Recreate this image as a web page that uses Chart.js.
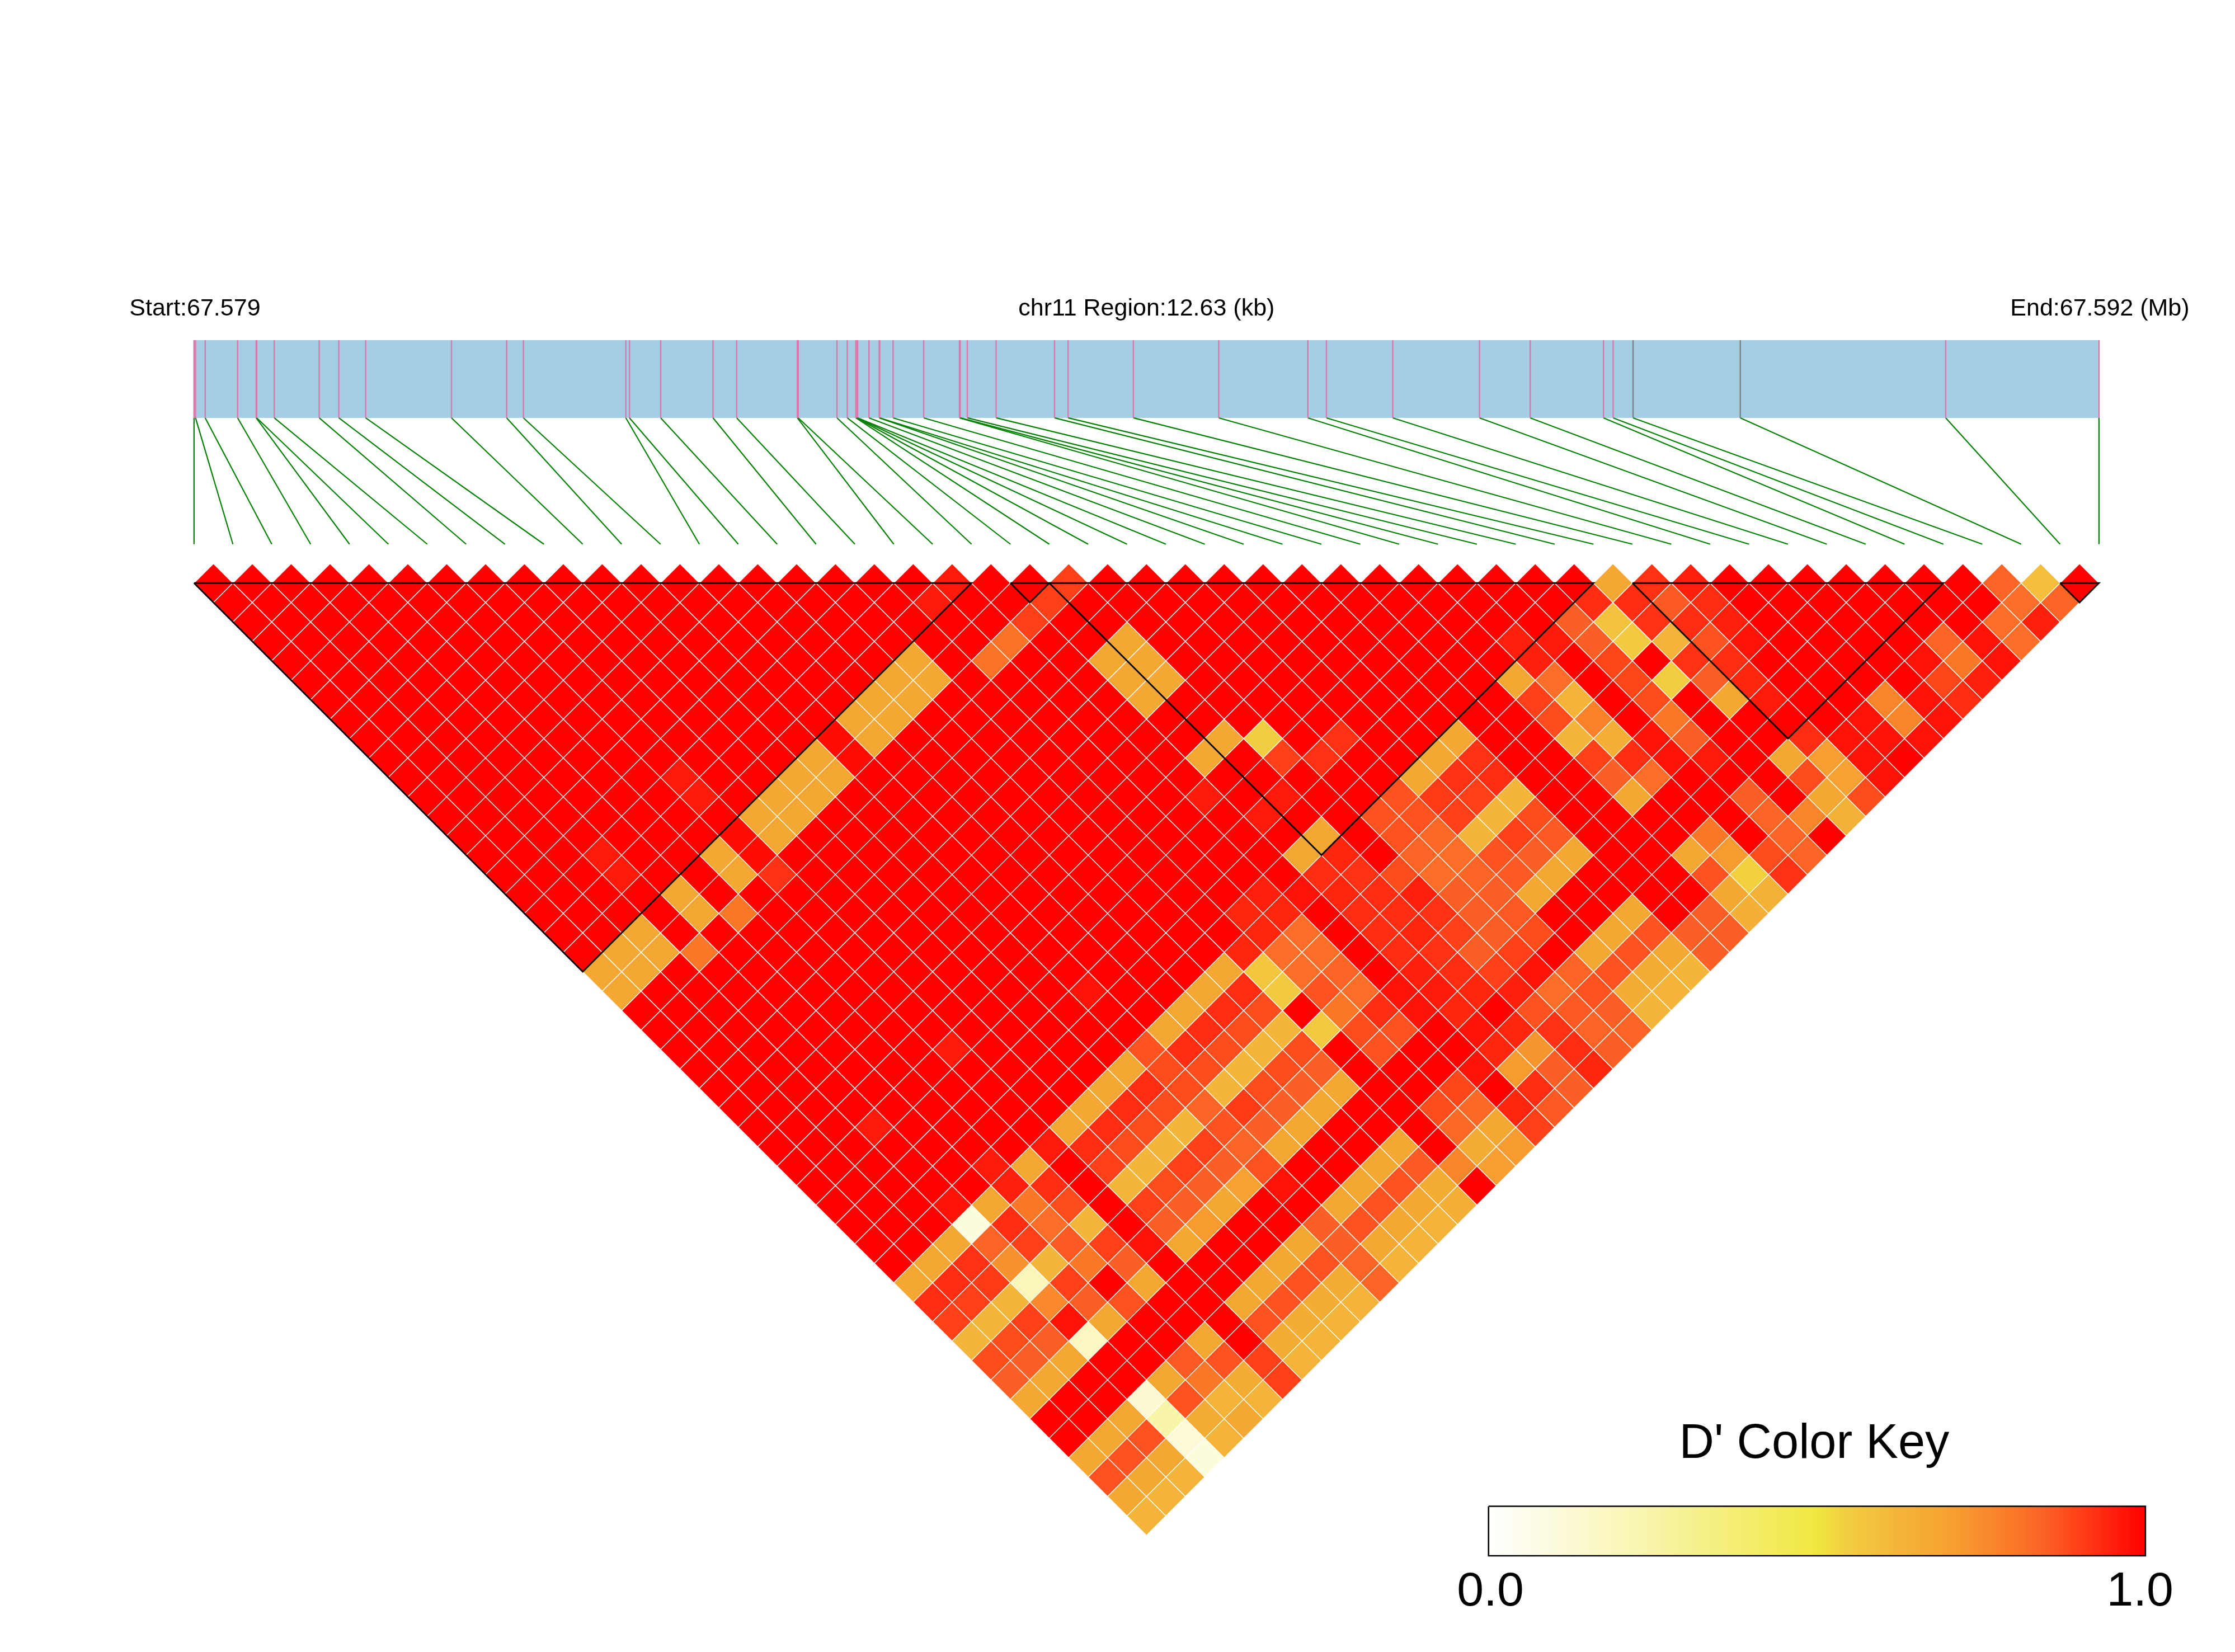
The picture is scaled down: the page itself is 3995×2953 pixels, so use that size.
<!DOCTYPE html>
<html>
<head>
<meta charset="utf-8">
<title>LD heatmap</title>
<script src="https://cdn.jsdelivr.net/npm/chart.js@4/dist/chart.umd.min.js"></script>
<style>
  html, body { margin: 0; padding: 0; background: #fff; }
  canvas { display: block; }
</style>
</head>
<body>
<canvas id="ldChart" width="3995" height="2953"></canvas>
<script>
const regionKb = 12.63;
const snpCount = 50;

// SNP positions along the region, kb from the start
const snpKb = [
  0, 0.01, 0.074, 0.289, 0.412, 0.416, 0.532, 0.83, 0.96, 1.138,
  1.707, 2.073, 2.184, 2.863, 2.887, 3.094, 3.441, 3.598, 4.0, 4.006,
  4.263, 4.331, 4.388, 4.392, 4.396, 4.4, 4.475, 4.543, 4.546, 4.635,
  4.838, 5.075, 5.08, 5.127, 5.318, 5.705, 5.795, 6.228, 6.794, 7.385,
  7.508, 7.948, 8.523, 8.859, 9.345, 9.409, 9.541, 10.252, 11.614, 12.63
];
const greyTicks = [46, 47];

// LD blocks, first and last SNP
const blockStart = [0, 21, 22, 37, 48];
const blockEnd = [20, 22, 36, 45, 49];

const fullLD = 1;
// pairs with D' under 1: [snp i, snp j, D']
const lowPairs = [
  [19,20,.96],[22,23,.9],[36,37,.68],[37,38,.92],[38,39,.95],[46,47,.84],[47,48,.6],
  [18,20,.96],[21,23,.9],[35,37,.93],[36,38,.93],[37,39,.86],[38,40,.93],[46,48,.82],[47,49,.84],
  [20,23,.9],[34,37,.85],[35,38,.58],[36,39,.92],[37,40,.93],[38,41,.95],[45,48,.82],[46,49,.95],
  [19,23,.81],[22,26,.68],[32,36,.95],[33,37,.96],[34,38,.85],[35,39,.56],[36,40,.63],[37,41,.87],[38,42,.97],[43,47,.84],[44,48,.97],[45,49,.82],
  [16,21,.68],[18,23,.81],[21,26,.68],[22,27,.68],[32,37,.95],[34,39,.89],[36,41,.92],[37,42,.93],[42,47,.97],[43,48,.8],[44,49,.97],
  [15,21,.68],[16,22,.68],[21,27,.68],[22,28,.68],[31,37,.68],[32,38,.82],[34,40,.89],[35,41,.55],[36,42,.85],[37,43,.94],[42,48,.89],[43,49,.95],
  [14,21,.68],[15,22,.68],[21,28,.68],[31,38,.9],[32,39,.63],[34,41,.88],[36,43,.68],[37,44,.96],[40,47,.77],[41,48,.97],[42,49,.93],
  [13,21,.68],[14,22,.68],[31,39,.88],[32,40,.78],[34,42,.8],[39,47,.97],[40,48,.77],[41,49,.97],
  [13,22,.68],[12,21,.98],[22,31,.68],[23,32,.55],[25,34,.92],[28,37,.68],[31,40,.62],[32,41,.65],[33,42,.97],[34,43,.85],[37,46,.93],[38,47,.97],[39,48,.97],[40,49,.97],
  [12,22,.98],[11,21,.68],[21,31,.68],[23,33,.9],[24,34,.92],[27,37,.68],[28,38,.92],[31,41,.9],[32,42,.93],[33,43,.97],[34,44,.96],[36,46,.68],[37,47,.71],[38,48,.97],
  [7,18,.96],[10,21,.68],[11,22,.68],[26,37,.68],[27,38,.92],[28,39,.93],[31,42,.85],[32,43,.82],[36,47,.88],[37,48,.7],[38,49,.97],
  [7,19,.96],[9,21,.68],[10,22,.68],[20,32,.96],[22,34,.96],[25,37,.87],[26,38,.91],[27,39,.9],[28,40,.62],[31,43,.68],[34,46,.85],[36,48,.68],[37,49,.88],
  [8,21,.68],[9,22,.68],[21,34,.96],[24,37,.87],[25,38,.87],[26,39,.9],[27,40,.62],[28,41,.88],[34,47,.84],[35,48,.77],[36,49,.64],
  [8,22,.68],[7,21,.98],[22,36,.68],[24,38,.87],[25,39,.83],[26,40,.62],[27,41,.9],[28,42,.86],[32,46,.8],[34,48,.84],
  [6,21,.68],[7,22,.98],[3,18,.96],[21,36,.68],[22,37,.94],[24,39,.84],[25,40,.82],[26,41,.87],[27,42,.85],[28,43,.68],[31,46,.68],[32,47,.72],[33,48,.88],[34,49,.84],
  [3,19,.96],[6,22,.68],[7,23,.92],[21,37,.93],[22,38,.92],[23,39,.88],[24,40,.82],[25,41,.84],[26,42,.86],[27,43,.68],[31,47,.87],[32,48,.54],[33,49,.92],
  [4,21,.68],[19,36,.95],[20,37,.97],[21,38,.94],[22,39,.93],[23,40,.95],[24,41,.85],[25,42,.85],[26,43,.68],[31,48,.68],[32,49,.64],
  [4,22,.68],[5,23,.8],[18,36,.94],[19,37,.94],[21,39,.93],[22,40,.93],[23,41,.92],[24,42,.85],[25,43,.86],[28,46,.68],[30,48,.85],[31,49,.65],
  [2,21,.68],[18,37,.94],[19,38,.82],[21,40,.93],[22,41,.94],[23,42,.9],[24,43,.85],[25,44,.88],[27,46,.68],[28,47,.87],[29,48,.85],[30,49,.85],
  [1,21,.68],[2,22,.68],[3,23,.8],[17,37,.94],[18,38,.82],[19,39,.82],[21,41,.93],[22,42,.92],[23,43,.85],[24,44,.9],[26,46,.68],[27,47,.87],[28,48,.68],[29,49,.85],
  [0,21,.68],[1,22,.68],[16,37,.68],[17,38,.57],[18,39,.82],[19,40,.84],[21,42,.95],[22,43,.93],[23,44,.9],[24,45,.97],[25,46,.84],[26,47,.87],[27,48,.66],[28,49,.62],
  [0,22,.68],[12,34,.97],[15,37,.68],[16,38,.93],[17,39,.56],[18,40,.87],[19,41,.82],[20,42,.97],[21,43,.96],[22,44,.94],[23,45,.95],[24,46,.82],[25,47,.87],[26,48,.66],[27,49,.63],
  [14,37,.68],[15,38,.93],[16,39,.88],[18,41,.8],[19,42,.93],[20,43,.97],[21,44,.94],[23,46,.87],[24,47,.86],[25,48,.85],[26,49,.62],
  [13,37,.68],[14,38,.93],[15,39,.88],[16,40,.62],[17,41,.56],[18,42,.88],[19,43,.87],[21,45,.97],[22,46,.94],[23,47,.92],[24,48,.84],[25,49,.84],
  [7,32,.96],[12,37,.87],[13,38,.93],[14,39,.88],[15,40,.62],[16,41,.88],[18,43,.87],[21,46,.94],[22,47,.73],[23,48,.93],[24,49,.85],
  [11,37,.68],[12,38,.88],[13,39,.88],[14,40,.62],[15,41,.88],[16,42,.85],[20,46,.97],[21,47,.72],[22,48,.85],[23,49,.94],
  [10,37,.68],[11,38,.93],[12,39,.88],[13,40,.62],[14,41,.88],[15,42,.85],[16,43,.68],[19,46,.89],[21,48,.93],[22,49,.85],
  [9,37,.68],[10,38,.93],[11,39,.88],[12,40,.84],[13,41,.91],[14,42,.85],[15,43,.68],[18,46,.88],[19,47,.83],[20,48,.94],[21,49,.86],
  [3,32,.96],[8,37,.68],[9,38,.93],[10,39,.88],[11,40,.62],[12,41,.87],[13,42,.85],[14,43,.68],[18,47,.83],[19,48,.68],[20,49,.9],
  [7,37,.96],[8,38,.93],[9,39,.88],[10,40,.62],[11,41,.9],[12,42,.84],[13,43,.68],[16,46,.68],[18,48,.66],[19,49,.72],
  [5,36,.96],[6,37,.68],[8,39,.9],[9,40,.62],[10,41,.9],[11,42,.85],[12,43,.87],[15,46,.68],[16,47,.86],[17,48,.77],[18,49,.71],
  [5,37,.95],[6,38,.93],[8,40,.62],[9,41,.88],[10,42,.85],[11,43,.7],[12,44,.97],[14,46,.68],[15,47,.87],[16,48,.66],
  [3,36,.97],[4,37,.68],[5,38,.8],[6,39,.88],[8,41,.9],[9,42,.85],[10,43,.68],[13,46,.68],[14,47,.87],[15,48,.68],[16,49,.65],
  [3,37,.1],[4,38,.93],[5,39,.82],[6,40,.62],[8,42,.85],[9,43,.72],[12,46,.85],[13,47,.87],[14,48,.68],[15,49,.63],
  [2,37,.68],[3,38,.84],[4,39,.9],[5,40,.86],[6,41,.9],[7,42,.97],[8,43,.68],[11,46,.68],[12,47,.85],[13,48,.68],[14,49,.63],
  [1,37,.68],[2,38,.92],[3,39,.74],[4,40,.62],[5,41,.8],[6,42,.85],[10,46,.68],[11,47,.87],[12,48,.84],[13,49,.63],
  [0,37,.68],[1,38,.93],[2,39,.91],[3,40,.2],[4,41,.9],[6,43,.68],[9,46,.68],[10,47,.87],[11,48,.66],[12,49,.84],
  [0,38,.93],[1,39,.9],[2,40,.62],[3,41,.76],[4,42,.85],[5,43,.87],[8,46,.68],[9,47,.87],[10,48,.66],[11,49,.63],
  [0,39,.9],[1,40,.62],[2,41,.9],[3,42,.97],[4,43,.68],[8,47,.87],[9,48,.66],[10,49,.63],
  [0,40,.62],[1,41,.88],[2,42,.85],[3,43,.18],[6,46,.68],[8,48,.66],[9,49,.63],
  [0,41,.88],[1,42,.85],[2,43,.68],[5,46,.86],[6,47,.87],[7,48,.9],[8,49,.63],
  [0,42,.85],[1,43,.68],[4,46,.68],[5,47,.8],[6,48,.66],[7,49,.9],
  [0,43,.68],[3,46,.13],[4,47,.87],[5,48,.63],[6,49,.63],
  [2,46,.68],[3,47,.25],[4,48,.66],[5,49,.68],
  [1,46,.68],[2,47,.87],[3,48,.12],[4,49,.63],
  [0,46,.68],[1,47,.87],[2,48,.68],[3,49,.1],
  [0,47,.87],[1,48,.68],[2,49,.63],
  [0,48,.68],[1,49,.63],
  [0,49,.63]
];

// colour key
const keyStops = [0, .25, .5, .54, .62, .68, .72, .8, .85, .9, 1];
const keyColors = ['#ffffff', '#f8f4a8', '#f0e840', '#f2d040', '#f4b63a', '#f5a733', '#f79a30', '#fa7828', '#fa6025', '#ff4018', '#ff0000'];
const keyTitle = "D' Color Key";
const keyLabels = ['0.0', '1.0'];

const startLabel = 'Start:67.579';
const middleLabel = 'chr11 Region:12.63 (kb)';
const endLabel = 'End:67.592 (Mb)';

// y axis is in cell rows, x axis in kb
const bandTop = -12.5;
const bandBottom = -8.5;
const linkBottom = -2;
const keyLeft = 8.583;
const keyRight = 12.938;
const keyTop = 47.5;
const keyBottom = 50.05;
const kbPerLane = regionKb / (snpCount - 1);

function hex(c) {
  return [1, 3, 5].map(k => parseInt(c.substr(k, 2), 16));
}

function colorFor(d) {
  for (let k = 1; k < keyStops.length; k++) {
    if (d <= keyStops[k]) {
      const t = (d - keyStops[k - 1]) / (keyStops[k] - keyStops[k - 1]);
      const a = hex(keyColors[k - 1]);
      const b = hex(keyColors[k]);
      return `rgb(${a.map((v, n) => Math.round(v + (b[n] - v) * t)).join(',')})`;
    }
  }
  return keyColors[keyColors.length - 1];
}

const lowLookup = new Map(lowPairs.map(p => [p[0] + '-' + p[1], p[2]]));
const cells = [];
const cellColors = [];
for (let i = 0; i < snpCount - 1; i++) {
  for (let j = i + 1; j < snpCount; j++) {
    const key = i + '-' + j;
    const d = lowLookup.has(key) ? lowLookup.get(key) : fullLD;
    cells.push({ x: (i + j) / 2 * kbPerLane, y: j - i - 1 });
    cellColors.push(colorFor(d));
  }
}

function lineSet(points, color, width, order) {
  return {
    data: points,
    showLine: true,
    borderColor: color,
    borderWidth: width,
    pointRadius: 0,
    tension: 0,
    fill: false,
    order: order
  };
}

const datasets = [];

// LD block outlines
blockStart.forEach((a, n) => {
  const b = blockEnd[n];
  datasets.push(lineSet([
    { x: a * kbPerLane, y: 0 },
    { x: b * kbPerLane, y: 0 },
    { x: (a + b) / 2 * kbPerLane, y: b - a },
    { x: a * kbPerLane, y: 0 }
  ], '#000000', 2.8, 0));
});

datasets.push({
  data: cells,
  pointStyle: 'rectRot',
  pointRadius: 34.74,
  pointBackgroundColor: cellColors,
  pointBorderColor: '#ffffff',
  pointBorderWidth: 1.3,
  showLine: false,
  order: 1
});

snpKb.forEach((kb, n) => {
  datasets.push(lineSet([{ x: kb, y: bandTop }, { x: kb, y: bandBottom }],
    greyTicks.includes(n) ? '#808080' : '#de77ae', 2.4, 2));
  datasets.push(lineSet([{ x: kb, y: bandBottom }, { x: n * kbPerLane, y: linkBottom }], '#008000', 2.2, 2));
});

// gene band
datasets.push({
  data: [{ x: 0, y: bandTop }, { x: regionKb, y: bandTop }],
  showLine: true,
  borderWidth: 0,
  pointRadius: 0,
  backgroundColor: '#a6cee3',
  fill: { value: bandBottom },
  order: 3
});

// colour key bar and its outline
datasets.push(lineSet([
  { x: keyLeft, y: keyTop },
  { x: keyRight, y: keyTop },
  { x: keyRight, y: keyBottom },
  { x: keyLeft, y: keyBottom },
  { x: keyLeft, y: keyTop }
], '#000000', 2.6, 4));
datasets.push({
  data: [{ x: keyLeft, y: keyTop }, { x: keyRight, y: keyTop }],
  showLine: true,
  borderWidth: 0,
  pointRadius: 0,
  fill: { value: keyBottom },
  backgroundColor: c => {
    const area = c.chart.chartArea;
    if (!area) return '#f5a733';
    const xs = c.chart.scales.x;
    const g = c.chart.ctx.createLinearGradient(xs.getPixelForValue(keyLeft), 0, xs.getPixelForValue(keyRight), 0);
    keyStops.forEach((s, k) => g.addColorStop(s, keyColors[k]));
    return g;
  },
  order: 5
});

const textPlugin = {
  id: 'chartText',
  afterDraw(chart) {
    const { ctx, scales: { x, y } } = chart;
    const put = (text, kb, row, size) => {
      ctx.font = `${size}px "Liberation Sans", Arial, sans-serif`;
      ctx.fillText(text, x.getPixelForValue(kb), y.getPixelForValue(row));
    };
    ctx.save();
    ctx.fillStyle = '#000000';
    ctx.textAlign = 'center';
    ctx.textBaseline = 'alphabetic';
    put(startLabel, 0.006, -13.77, 43);
    put(middleLabel, regionKb / 2, -13.77, 43);
    put(endLabel, regionKb + 0.006, -13.77, 43);
    put(keyTitle, (keyLeft + keyRight) / 2 - 0.018, 45, 86.5);
    put(keyLabels[0], keyLeft + 0.012, 52.6, 86);
    put(keyLabels[1], keyRight - 0.036, 52.6, 86);
    ctx.restore();
  }
};

new Chart(document.getElementById('ldChart'), {
  type: 'scatter',
  data: { datasets: datasets },
  plugins: [textPlugin],
  options: {
    responsive: false,
    animation: false,
    events: [],
    layout: { autoPadding: false, padding: 0 },
    plugins: {
      legend: { display: false },
      title: { display: false },
      tooltip: { enabled: false }
    },
    scales: {
      x: { type: 'linear', min: -1.2864, max: 13.532, display: false },
      y: { type: 'linear', min: -30, max: 55, reverse: true, display: false }
    }
  }
});
</script>
</body>
</html>
